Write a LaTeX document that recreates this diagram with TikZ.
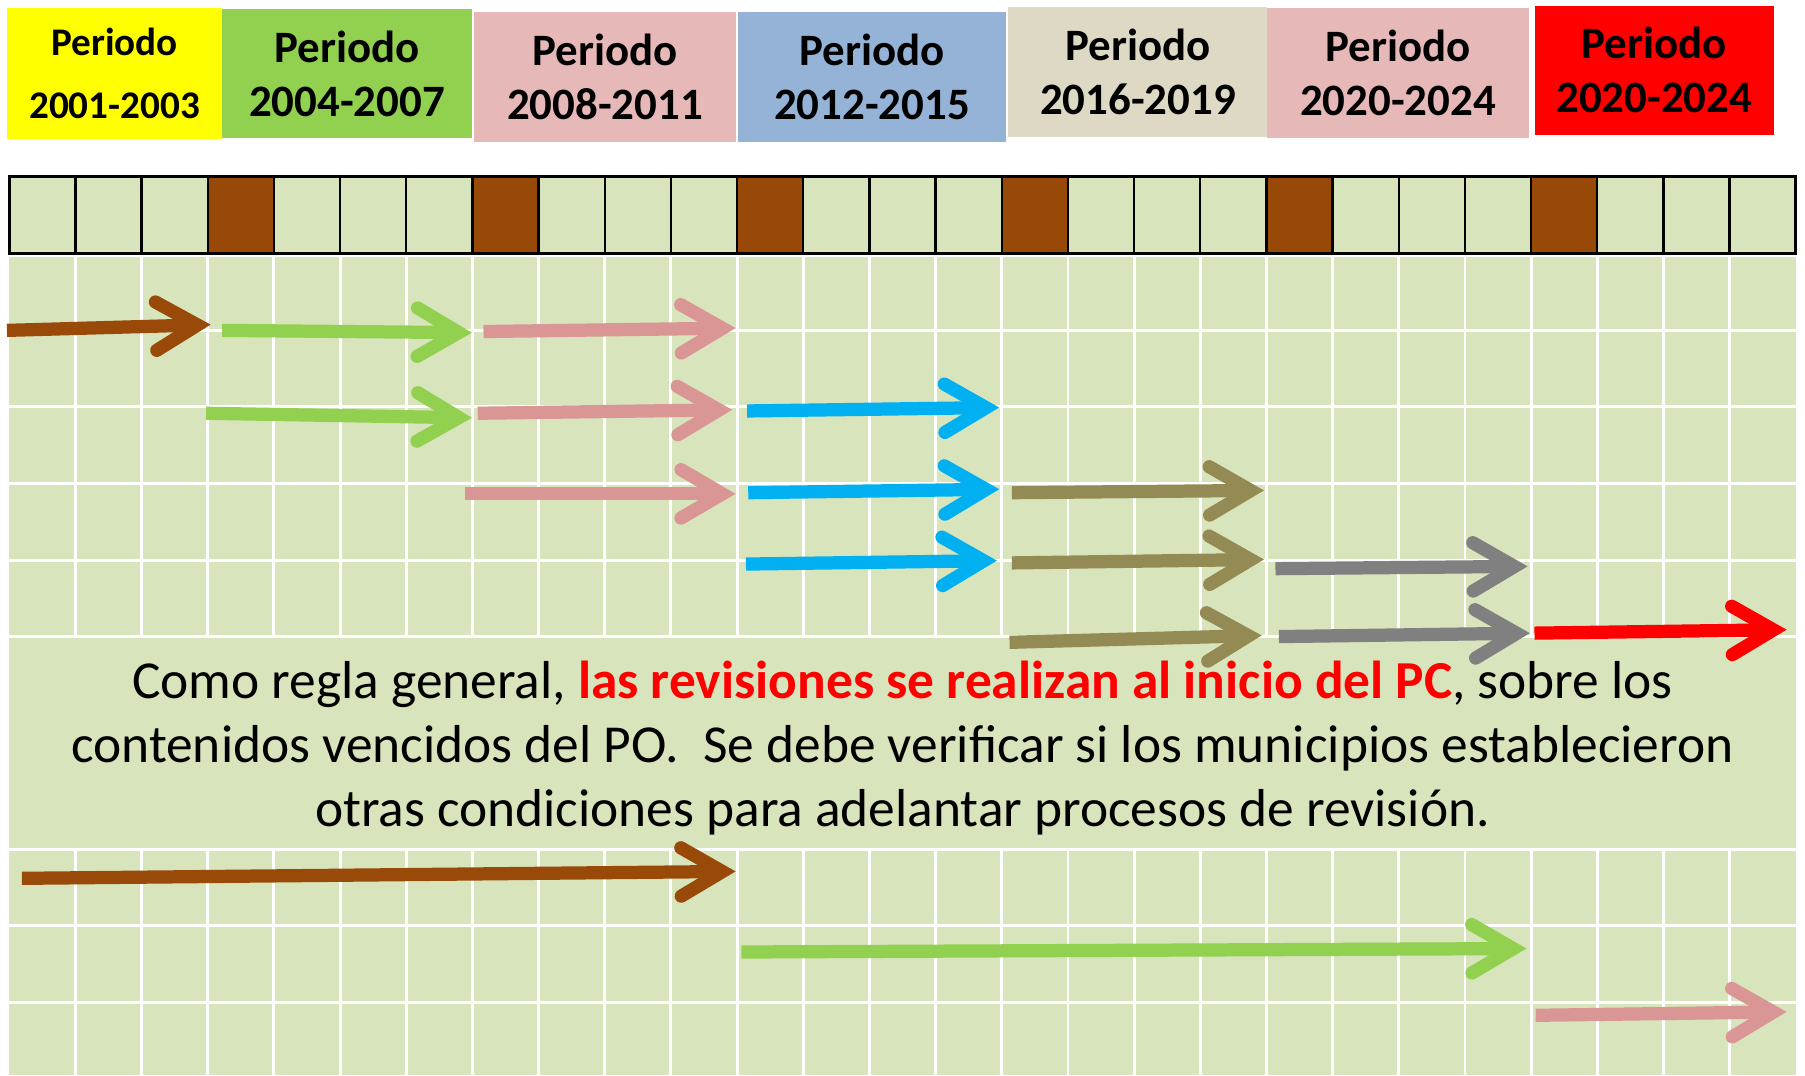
\documentclass[tikz,border=0pt]{standalone}
\usepackage{fontspec}
\setmainfont{Carlito}
\usetikzlibrary{arrows.meta}
\definecolor{celda}{HTML}{D8E4BC}
\definecolor{cafe}{HTML}{984807}
\definecolor{amarillo}{HTML}{FFFF00}
\definecolor{verde}{HTML}{92D050}
\definecolor{rosa}{HTML}{E6B8B7}
\definecolor{azulp}{HTML}{95B3D7}
\definecolor{beige}{HTML}{DDD9C4}
\definecolor{rojo}{HTML}{FF0000}
\definecolor{rosaf}{HTML}{DA9694}
\definecolor{cian}{HTML}{00B0F0}
\definecolor{oliva}{HTML}{948A54}
\definecolor{gris}{HTML}{808080}
\definecolor{cafef}{HTML}{994A08}
\newcommand\flecha[6]{%
  \coordinate (#1-s) at (#3,#4);
  \coordinate (#1-e) at (#5,#6);
  \draw[#2] (#1-s) -- (#1-e);}
\tikzset{
  periodo/.style={rectangle, inner sep=0pt, align=center,
    font=\bfseries\fontsize{39}{47}\selectfont},
  flechabase/.style={line width=11.5pt,
    -{Straight Barb[length=36pt,width=42pt,line cap=round,line join=miter]}},
  fcafe/.style={flechabase, draw=cafef},
  fverde/.style={flechabase, draw=verde},
  frosa/.style={flechabase, draw=rosaf},
  fcian/.style={flechabase, draw=cian},
  foliva/.style={flechabase, draw=oliva},
  fgris/.style={flechabase, draw=gris},
  frojo/.style={flechabase, draw=rojo},
  rejilla/.style={white, line width=2.5pt},
  borde/.style={black, line width=2pt}
}
\begin{document}
\begin{tikzpicture}[x=1pt,y=-1pt]
\fill[white] (0,0) rectangle (1568,934);
\useasboundingbox (0,0) rectangle (1568,934);

% header boxes
\node[periodo, fill=amarillo, minimum width=187pt, minimum height=114pt,
  font=\bfseries\fontsize{34}{55}\selectfont] (p1) at (99.5,64) {Periodo\\2001-2003};
\node[periodo, fill=verde, minimum width=217pt, minimum height=112pt] (p2) at (301.5,64) {Periodo\\2004-2007};
\node[periodo, fill=rosa, minimum width=227pt, minimum height=113pt] (p3) at (525.5,66.5) {Periodo\\2008-2011};
\node[periodo, fill=azulp, minimum width=233pt, minimum height=113pt] (p4) at (757.5,66.5) {Periodo\\2012-2015};
\node[periodo, fill=beige, minimum width=225pt, minimum height=113pt] (p5) at (988.5,62.5) {Periodo\\2016-2019};
\node[periodo, fill=rosa, minimum width=227pt, minimum height=113pt] (p6) at (1214.5,63.5) {Periodo\\2020-2024};
\node[periodo, fill=rojo, minimum width=208pt, minimum height=112pt] (p7) at (1437,61) {Periodo\\2020-2024};

% background grid
\fill[celda] (8,221) rectangle (1560,934);
\foreach \i in {1,...,26} {
  \draw[rejilla] ({8+\i*57.4815},221) -- ({8+\i*57.4815},553);
  \draw[rejilla] ({8+\i*57.4815},738) -- ({8+\i*57.4815},934);
}
\foreach \yy in {222,287,353,420,487,553,738,804,871}
  \draw[rejilla] (8,\yy) -- (1560,\yy);

% year row
\fill[celda] (8,153) rectangle (1560,220);
\foreach \i in {3,7,11,15,19,23}
  \fill[cafe] ({8+\i*57.4815},153) rectangle ({8+(\i+1)*57.4815},220);
\foreach \i in {1,...,26}
  \draw[borde] ({8+\i*57.4815},153) -- ({8+\i*57.4815},220);
\draw[black, line width=2.5pt] (8,153) rectangle (1560,220);

% text
\node[align=center, font=\fontsize{46.4}{55.5}\selectfont, text=black, inner sep=0pt] (texto) at (784,649.5)
  {Como regla general, {\color{rojo}\bfseries las revisiones se realizan al inicio del PC}, sobre los\\
   contenidos vencidos del PO.\ \ Se debe verificar si los municipios establecieron\\
   otras condiciones para adelantar procesos de revisi\'on.};

% arrows
\flecha{r1a}{fcafe}{6}{287}{183}{282}
\flecha{r1b}{fverde}{193}{287}{410}{289}
\flecha{r1c}{frosa}{420}{288}{639}{285}
\flecha{r2a}{fverde}{179}{359}{410}{363}
\flecha{r2b}{frosa}{415}{359}{636}{356}
\flecha{r2c}{fcian}{649}{357}{868}{354}
\flecha{r3a}{frosa}{404}{429}{639}{429}
\flecha{r3b}{fcian}{650}{428}{868}{425}
\flecha{r3c}{foliva}{879}{428}{1098}{426}
\flecha{r4a}{fcian}{648}{490}{866}{487}
\flecha{r4b}{foliva}{879}{489}{1098}{486}
\flecha{r4c}{fgris}{1108}{494}{1327}{492}
\flecha{r5a}{foliva}{877}{558}{1096}{552}
\flecha{r5b}{fgris}{1111}{553}{1329}{550}
\flecha{r5c}{frojo}{1333}{550}{1552}{547}
\flecha{b1}{fcafe}{19}{763}{639}{757}
\flecha{b2}{fverde}{644}{827}{1326}{824}
\flecha{b3}{frosa}{1334}{882}{1552}{879}
\end{tikzpicture}
\end{document}
